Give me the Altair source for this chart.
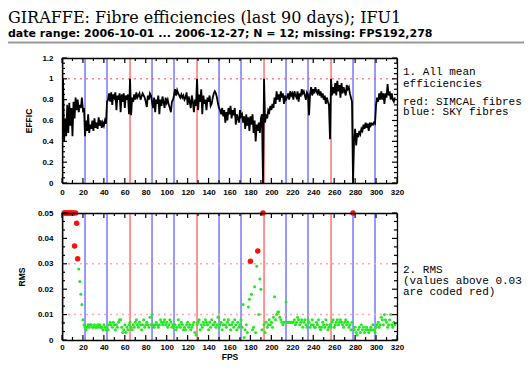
import altair as alt
import pandas as pd

# ---------------- data ----------------
EFF = [
    1.00, 0.40, 0.62, 0.45, 0.75, 0.48, 0.77, 0.55, 0.72, 0.45, 0.78, 0.62, 0.82, 0.70, 0.80, 0.68, 0.75, 0.72, 0.82, 0.70, 0.72,
    0.45, 0.60, 0.50, 0.66, 0.48, 0.56, 0.52, 0.60, 0.50, 0.62, 0.53, 0.58, 0.52, 0.63, 0.55, 0.60, 0.53, 0.58, 0.55, 0.60, 0.57,
    0.78, 0.80, 0.86, 0.78, 0.87, 0.75, 0.85, 0.82, 0.87, 0.70, 0.84, 0.80, 0.86, 0.68, 0.85, 0.78, 0.86, 0.72, 0.84, 0.80, 0.85, 0.66,
    1.00, 0.65, 0.82, 0.78, 0.85, 0.80, 0.87, 0.82, 0.84, 0.86, 0.80, 0.83, 0.86, 0.84, 0.82, 0.78, 0.73, 0.84, 0.80, 0.86, 0.84,
    0.78, 0.72, 0.82, 0.68, 0.80, 0.76, 0.84, 0.66, 0.80, 0.74, 0.83, 0.78, 0.72, 0.82, 0.77, 0.80, 0.75, 0.72, 0.68, 0.78, 0.80,
    0.84, 0.90, 0.84, 0.89, 0.86, 0.84, 0.82, 0.85, 0.82, 0.84, 0.80, 0.82, 0.87, 0.75, 0.83, 0.78, 0.72, 0.84, 0.78, 0.68, 0.80, 0.74,
    1.00, 0.70, 0.85, 0.78, 0.90, 0.66, 0.84, 0.76, 0.80, 0.70, 0.82, 0.78, 0.84, 0.74, 0.76, 0.82, 0.86, 0.88, 0.86, 0.82, 0.76,
    0.72, 0.70, 0.66, 0.72, 0.64, 0.70, 0.58, 0.68, 0.60, 0.72, 0.66, 0.74, 0.62, 0.70, 0.65, 0.72, 0.56, 0.66, 0.62, 0.58, 0.70, 0.64,
    0.66, 0.58, 0.64, 0.52, 0.66, 0.55, 0.63, 0.50, 0.64, 0.56, 0.66, 0.48, 0.60, 0.40, 0.56, 0.50, 0.58, 0.48, 0.62, 0.66, 0.00, 1.00,
    0.58, 0.66, 0.62, 0.70, 0.68, 0.74, 0.70, 0.76, 0.72, 0.82, 0.76, 0.88, 0.80, 0.85, 0.78, 0.88, 0.82, 0.86, 0.76, 0.84, 0.80,
    0.82, 0.86, 0.80, 0.88, 0.84, 0.86, 0.80, 0.88, 0.84, 0.82, 0.88, 0.78, 0.86, 0.83, 0.90, 0.86, 0.88, 0.84, 0.80, 0.87, 0.85,
    0.65, 0.86, 0.92, 0.84, 0.90, 0.86, 0.92, 0.88, 0.86, 0.90, 0.84, 0.88, 0.82, 0.86, 0.80, 0.84, 0.76, 0.82, 0.78, 0.75, 0.42, 1.00,
    0.84, 0.92, 0.86, 0.96, 0.84, 0.98, 0.88, 0.94, 0.82, 0.96, 0.86, 0.92, 0.88, 0.84, 0.94, 0.90, 0.92, 0.86, 0.82, 0.78, 0.00,
    0.42, 0.52, 0.36, 0.48, 0.44, 0.50, 0.47, 0.52, 0.50, 0.56, 0.52, 0.58, 0.53, 0.57, 0.50, 0.58, 0.55, 0.57, 0.56, 0.58, 0.57,
    0.75, 0.82, 0.78, 0.86, 0.80, 0.88, 0.80, 0.86, 0.76, 0.86, 0.82, 0.95, 0.84, 0.88, 0.80, 0.86, 0.80, 0.78, 0.82,
]

RMS = [
    0.007, 0.05, 0.05, 0.05, 0.05, 0.05, 0.05, 0.05, 0.05, 0.05, 0.05, 0.037, 0.05, 0.046, 0.032, 0.028, 0.023, 0.018, 0.014, 0.008,
    0.006, 0.005, 0.004, 0.005, 0.006, 0.005, 0.006, 0.006, 0.005, 0.005, 0.006, 0.005, 0.005, 0.006, 0.005, 0.006, 0.005, 0.005, 0.004, 0.006, 0.005, 0.004,
    0.005, 0.004, 0.006, 0.007, 0.006, 0.005, 0.007, 0.006, 0.004, 0.006, 0.005, 0.007, 0.008, 0.008, 0.005, 0.003, 0.004, 0.006, 0.003, 0.005, 0.004, 0.006,
    0.007, 0.005, 0.004, 0.006, 0.005, 0.007, 0.008, 0.006, 0.005, 0.007, 0.006, 0.004, 0.006, 0.008, 0.005, 0.006, 0.007, 0.006, 0.005, 0.009, 0.006,
    0.010, 0.006, 0.005, 0.006, 0.007, 0.006, 0.005, 0.006, 0.008, 0.007, 0.006, 0.007, 0.008, 0.006, 0.007, 0.005, 0.006, 0.008, 0.007, 0.005, 0.006,
    0.005, 0.006, 0.004, 0.005, 0.008, 0.006, 0.005, 0.007, 0.006, 0.004, 0.005, 0.004, 0.006, 0.007, 0.005, 0.006, 0.004, 0.005, 0.006, 0.007, 0.003, 0.002,
    0.006, 0.007, 0.008, 0.004, 0.006, 0.005, 0.007, 0.006, 0.008, 0.007, 0.006, 0.004, 0.007, 0.005, 0.008, 0.006, 0.006, 0.007, 0.005, 0.006, 0.009,
    0.005, 0.006, 0.007, 0.004, 0.006, 0.008, 0.006, 0.005, 0.007, 0.008, 0.006, 0.004, 0.006, 0.007, 0.005, 0.008, 0.006, 0.004, 0.007, 0.005, 0.006, 0.008,
    0.005, 0.014, 0.001, 0.004, 0.006, 0.003, 0.013, 0.016, 0.031, 0.018, 0.004, 0.005, 0.021, 0.003, 0.029, 0.035, 0.010, 0.024, 0.020, 0.004, 0.05,
    0.006, 0.003, 0.007, 0.005, 0.006, 0.008, 0.006, 0.007, 0.005, 0.009, 0.017, 0.008, 0.010, 0.011, 0.011, 0.009, 0.008, 0.007, 0.006, 0.007, 0.007, 0.015,
    0.007, 0.007, 0.007, 0.007, 0.007, 0.007, 0.007, 0.008, 0.006, 0.007, 0.009, 0.008, 0.006, 0.007, 0.008, 0.005, 0.007, 0.008, 0.006, 0.005, 0.008,
    0.007, 0.005, 0.006, 0.008, 0.006, 0.005, 0.005, 0.007, 0.006, 0.008, 0.005, 0.004, 0.005, 0.007, 0.006, 0.005, 0.008, 0.006, 0.004, 0.005, 0.006,
    0.005,
    0.007, 0.008, 0.005, 0.006, 0.007, 0.008, 0.006, 0.007, 0.008, 0.007, 0.006, 0.005, 0.007, 0.008, 0.006, 0.007, 0.005, 0.006, 0.004, 0.007,
    0.05,
    0.004, 0.005, 0.003, 0.002, 0.004, 0.005, 0.003, 0.006, 0.004, 0.005, 0.003, 0.004, 0.005, 0.004, 0.003, 0.004, 0.005, 0.004, 0.006, 0.004, 0.003,
    0.005, 0.006, 0.007, 0.005, 0.006, 0.009, 0.008, 0.006, 0.010, 0.008, 0.007, 0.005, 0.006, 0.008, 0.010, 0.006, 0.005, 0.007, 0.006,
]

SIMCAL = [1, 65, 129, 193, 257]
SKY = [22, 43, 86, 107, 150, 171, 214, 235, 278, 299]

X_LABELS = list(range(0, 321, 20))
X_MINOR = list(range(10, 320, 20))
EFF_LABELS = [0, 0.2, 0.4, 0.6, 0.8, 1.0, 1.2]
EFF_MINOR = [round(i * 0.05, 4) for i in range(25) if i % 4]
RMS_LABELS = [0, 0.01, 0.02, 0.03, 0.04, 0.05]
RMS_MINOR = [round(i * 0.01 / 3, 6) for i in range(16) if i % 3]
EFF_REF = [1.0]
RMS_REF = [0.01, 0.03]
RMS_LIMIT = 0.03

TITLE = "GIRAFFE: Fibre efficiencies (last 90 days); IFU1"
SUBTITLE = "date range: 2006-10-01 ... 2006-12-27; N = 12; missing: FPS192,278"
NOTE1 = ["1. All mean", "efficiencies"]
NOTE1B = ["red: SIMCAL fibres", "blue: SKY fibres"]
NOTE2 = ["2. RMS", "(values above 0.03", "are coded red)"]

# ---------------- layout / style ----------------
W, H = 335, 282
H1 = 125
B_TOP = 155
RED = "#ff5c5c"
BLUE = "#6262ff"
MAJ, MIN = 5, 3
TICK_COLOR = "black"
X0, X1 = 0, 320
E0, E1 = 0, 1.2
R0, R1 = 0, 0.05

df_eff = pd.DataFrame({"fps": list(range(1, 1 + len(EFF))), "eff": EFF})
df_rms = pd.DataFrame({"fps": list(range(1, 1 + len(RMS))), "rms": RMS})
df_rms["cls"] = ["high" if v > RMS_LIMIT else "ok" for v in RMS]
df_lines = pd.DataFrame({"pos": SIMCAL + SKY,
                         "kind": ["SIMCAL"] * len(SIMCAL) + ["SKY"] * len(SKY)})

xs = alt.Scale(domain=[X0, X1], nice=False, zero=False)
ys1 = alt.Scale(domain=[E0, E1], range=[H1, 0], nice=False, zero=False)
ys2 = alt.Scale(domain=[R0, R1], range=[H, B_TOP], nice=False, zero=False)

COMMON = dict(grid=False, zindex=1, domainColor="black", domainWidth=1.3,
              labelFlush=False)


def label_axis(orient, values, offset, pad, fmt, **kw):
    return alt.Axis(orient=orient, values=values, offset=offset, ticks=False,
                    domain=True, labels=True, format=fmt, labelPadding=pad,
                    labelFont="Liberation Sans", labelFontWeight="bold",
                    labelFontSize=8, labelColor="black",
                    titleFont="Liberation Sans", titleFontWeight="bold",
                    titleFontSize=8.5, titleColor="black", **COMMON, **kw)


def frame_axis(orient, offset):
    return alt.Axis(orient=orient, offset=offset, ticks=False, labels=False,
                    domain=True, title=None, **COMMON)


def text_layer(lines, x, y, font, size, weight="normal", lh=12):
    return alt.Chart(pd.DataFrame({"t": ["\n".join(lines)]})).mark_text(
        align="left", baseline="alphabetic", font=font, fontSize=size,
        fontWeight=weight, lineBreak="\n", lineHeight=lh, color="black"
    ).encode(x=alt.value(x), y=alt.value(y), text="t:N")


def rules_layer(yscale, y_top, y_axis, x_axis):
    return alt.Chart(df_lines).mark_rule(strokeWidth=1.3).encode(
        x=alt.X("pos:Q", scale=xs, axis=x_axis),
        y=alt.YDatum(0, type="quantitative", scale=yscale, axis=y_axis),
        y2=alt.Y2Datum(y_top),
        color=alt.Color("kind:N", scale=alt.Scale(domain=["SIMCAL", "SKY"], range=[RED, BLUE]), legend=None),
    )


def ref_layer(levels, yscale, color, width, x_axis, y_axis):
    return alt.Chart(pd.DataFrame({"lvl": levels})).mark_rule(
        color=color, strokeDash=[2, 4], strokeWidth=width
    ).encode(
        x=alt.XDatum(X0, type="quantitative", scale=xs, axis=x_axis),
        x2=alt.X2Datum(X1),
        y=alt.Y("lvl:Q", scale=yscale, axis=y_axis),
    )


def xtick_layer(yscale, ylo, yhi, panel_h):
    # inward ticks on bottom and top edges; lengths converted to data units
    u = (yhi - ylo) / panel_h
    rows = []
    for vals, ln in ((X_LABELS, MAJ), (X_MINOR, MIN)):
        for t in vals:
            rows.append({"t": t, "a": ylo, "b": ylo + ln * u})
            rows.append({"t": t, "a": yhi, "b": yhi - ln * u})
    return alt.Chart(pd.DataFrame(rows)).mark_rule(color=TICK_COLOR, strokeWidth=1.2).encode(
        x=alt.X("t:Q", scale=xs, axis=None),
        y=alt.Y("a:Q", scale=yscale, axis=None),
        y2="b:Q",
    )


def ytick_layer(yscale, majors, minors):
    u = (X1 - X0) / W
    rows = []
    for vals, ln in ((majors, MAJ), (minors, MIN)):
        for t in vals:
            rows.append({"t": t, "a": X0, "b": X0 + ln * u})
            rows.append({"t": t, "a": X1, "b": X1 - ln * u})
    return alt.Chart(pd.DataFrame(rows)).mark_rule(color=TICK_COLOR, strokeWidth=1.2).encode(
        x=alt.X("a:Q", scale=xs, axis=None),
        x2="b:Q",
        y=alt.Y("t:Q", scale=yscale, axis=None),
    )


t_rules = rules_layer(
    ys1, E1,
    label_axis("left", EFF_LABELS, 0, 9, "~g", title="EFFIC",
               titleX=-34, titleY=H1 / 2, titleBaseline="middle"),
    label_axis("bottom", X_LABELS, -(H - H1), 5, "d", title=None))
t_ref = ref_layer(EFF_REF, ys1, "#ff5050", 1,
                  frame_axis("bottom", -H), frame_axis("left", -W))
t_line = alt.Chart(df_eff).mark_line(color="black", strokeWidth=1.8).encode(
    x=alt.X("fps:Q", scale=xs, axis=None),
    y=alt.Y("eff:Q", scale=ys1, axis=None),
)
t_xt = xtick_layer(ys1, E0, E1, H1)
t_yt = ytick_layer(ys1, EFF_LABELS, EFF_MINOR)

b_rules = rules_layer(
    ys2, R1,
    label_axis("left", RMS_LABELS, 0, 9, "~g", title="RMS",
               titleX=-41, titleY=(B_TOP + H) / 2, titleBaseline="middle"),
    label_axis("bottom", X_LABELS, 0, 3, "d", title="FPS",
               titleX=W / 2, titleY=16, titleBaseline="middle"))
b_ref = ref_layer(RMS_REF, ys2, "#ffaaaa", 1.5,
                  frame_axis("bottom", -(H - B_TOP)), frame_axis("left", -W))
b_pts = alt.Chart(df_rms).mark_circle(opacity=1).encode(
    x=alt.X("fps:Q", scale=xs, axis=None),
    y=alt.Y("rms:Q", scale=ys2, axis=None),
    color=alt.Color("cls:N", scale=alt.Scale(domain=["ok", "high"], range=["#22e822", "#ff1010"]), legend=None),
    size=alt.Size("cls:N", scale=alt.Scale(domain=["ok", "high"], range=[9, 30]), legend=None),
    order=alt.Order("cls:N", sort="descending"),
)
b_xt = xtick_layer(ys2, R0, R1, H - B_TOP)
b_yt = ytick_layer(ys2, RMS_LABELS, RMS_MINOR)

title = text_layer([TITLE], -54, -35, "DejaVu Serif", 16)
subtitle = text_layer([SUBTITLE], -54, -21, "DejaVu Sans", 11, "bold")
sep = alt.Chart(pd.DataFrame({"a": [0]})).mark_rule(color="#999999", strokeWidth=2).encode(
    x=alt.value(-54), x2=alt.value(462), y=alt.value(-15.5))
note1 = text_layer(NOTE1, 341, 16.5, "Liberation Mono", 11, lh=12.5)
note1b = text_layer(NOTE1B, 341, 46.5, "Liberation Mono", 11, lh=10.5)
note2 = text_layer(NOTE2, 341, 215, "Liberation Mono", 11, lh=10.8)

chart = alt.layer(
    t_rules, t_ref, t_line, t_xt, t_yt,
    b_rules, b_ref, b_pts, b_xt, b_yt,
    title, subtitle, sep, note1, note1b, note2,
).resolve_scale(
    y="independent", color="independent", size="independent"
).resolve_axis(
    x="independent", y="independent"
).properties(
    width=W, height=H,
    autosize=alt.AutoSizeParams(type="none"),
    padding={"left": 54, "top": 50, "right": 127, "bottom": 24},
    background="white",
).configure_view(stroke="transparent")

chart.save("out.html", embed_options={"renderer": "svg", "actions": False})
